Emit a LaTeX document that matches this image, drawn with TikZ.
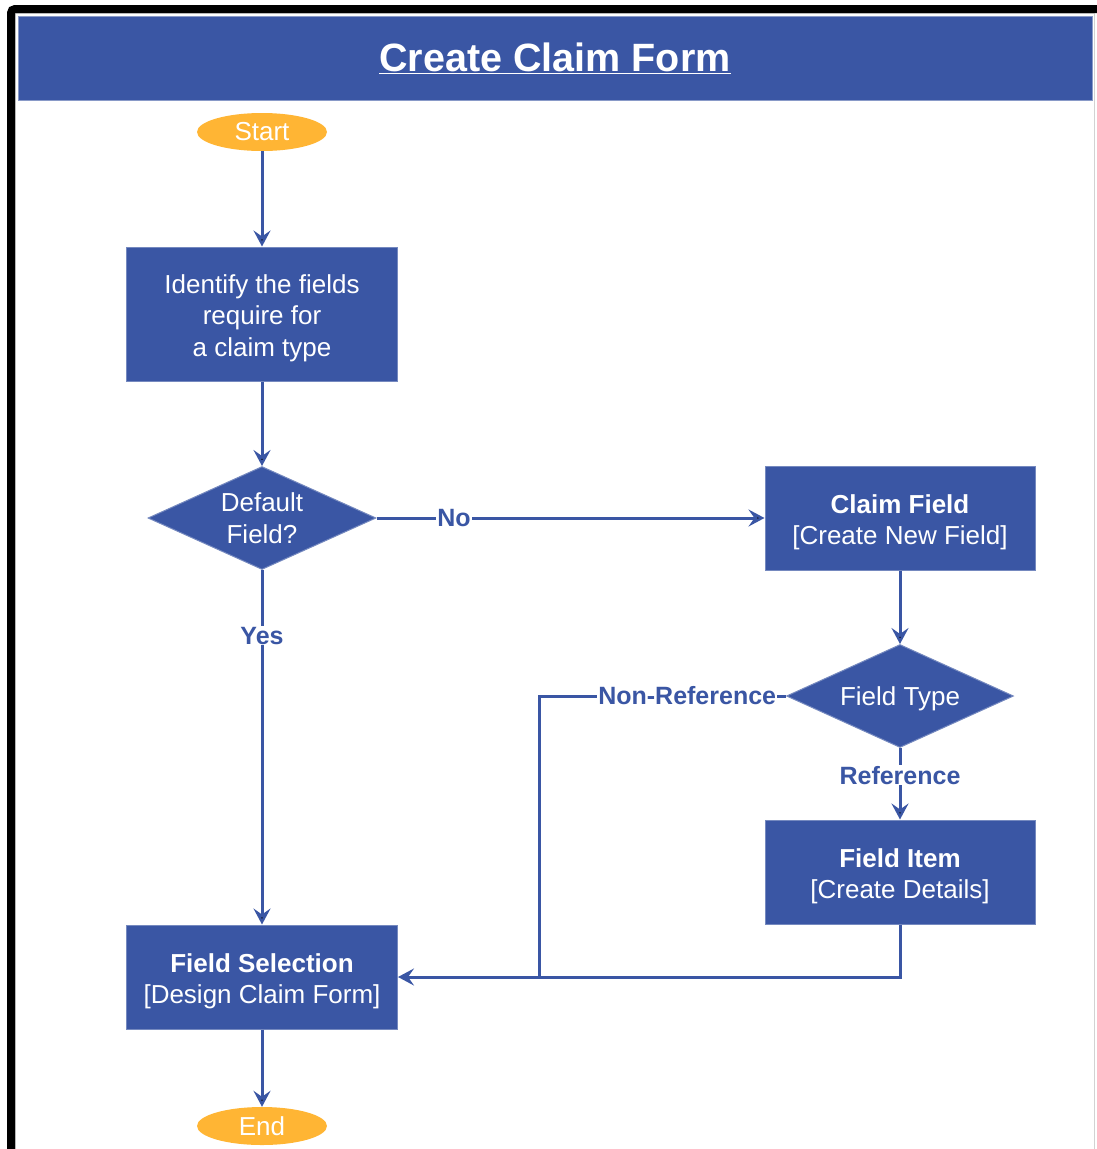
\documentclass[tikz,border=0pt]{standalone}
\usepackage{fontspec}
\setmainfont{Liberation Sans}
\usetikzlibrary{arrows.meta,shapes.geometric,positioning}

\definecolor{claimblue}{RGB}{58,86,164}
\definecolor{termorange}{RGB}{255,181,52}

% pushes the first text line of a box a little lower
\newcommand{\toppad}[1]{\rule{0pt}{#1}}

\begin{document}
\begin{tikzpicture}[x=1pt, y=-1pt, node distance=150pt, on grid,
    every node/.style={font=\fontsize{26}{31.5}\selectfont},
    term/.style={ellipse, fill=termorange, text=white, inner sep=0,
        minimum width=130, minimum height=38},
    proc/.style={rectangle, fill=claimblue, draw=claimblue!70!white, line width=1,
        text=white, align=center, inner sep=0, minimum width=271, minimum height=104},
    dec/.style={diamond, fill=claimblue, draw=claimblue!70!white, line width=1,
        text=white, align=center, inner sep=0, aspect=2.2,
        minimum width=228, minimum height=103},
    lbl/.style={fill=white, text=claimblue, inner sep=1,
        font=\fontsize{25}{30}\selectfont\bfseries},
    flow/.style={draw=claimblue, line width=3,
        -{Stealth[length=16pt, width=17pt, inset=6pt]}}]

    \useasboundingbox (0,0) rectangle (1096,1149);

    % page frame
    \draw[gray!35, line width=1] (15,13) rectangle (1094,1170);
    \draw[line width=8, rounded corners=4] (11,1170) -- (11,9) -- (1110,9);

    \node[fill=claimblue, draw=claimblue!60!white, line width=1, text=white,
        minimum width=1074, minimum height=84,
        font=\fontsize{39.5}{40}\selectfont\bfseries] (title) at (555,58)
        {\underline{Create Claim Form}};

    % left column
    \node[term] (start) at (262,132) {Start};
    \node[proc, minimum height=134, below=182pt of start] (ident)
        {\toppad{27pt}Identify the fields\\require for\\a claim type};
    \node[dec, below=204pt of ident] (dflt) {Default\\Field?};
    \node[proc, below=459pt of dflt] (sel)
        {\toppad{27pt}\textbf{Field Selection}\\{[Design Claim Form]}};
    \node[term, below=149pt of sel] (stop) {End};

    % right column
    \node[proc, minimum width=270, right=638pt of dflt] (claim)
        {\toppad{27pt}\textbf{Claim Field}\\{[Create New Field]}};
    \node[dec, minimum width=227, below=178pt of claim] (ftype)
        {\toppad{25pt}Field Type};
    \node[proc, minimum width=270, below=176pt of ftype] (item)
        {\toppad{27pt}\textbf{Field Item}\\{[Create Details]}};

    \coordinate[right=141pt of sel.east] (jn);

    \path[flow]
        (start) edge (ident)
        (ident) edge (dflt)
        (dflt)  edge node[lbl, pos=0.2] {No} (claim)
                edge node[lbl, pos=0.185] {Yes} (sel)
        (claim) edge (ftype)
        (ftype) edge node[lbl, pos=0.38] {Reference} (item)
        (sel)   edge (stop);

    \draw[flow] (item.south) |- (sel.east);
    \draw[draw=claimblue, line width=3] (ftype.west) -| node[lbl, pos=0.2] {Non-Reference} (jn);
\end{tikzpicture}
\end{document}
